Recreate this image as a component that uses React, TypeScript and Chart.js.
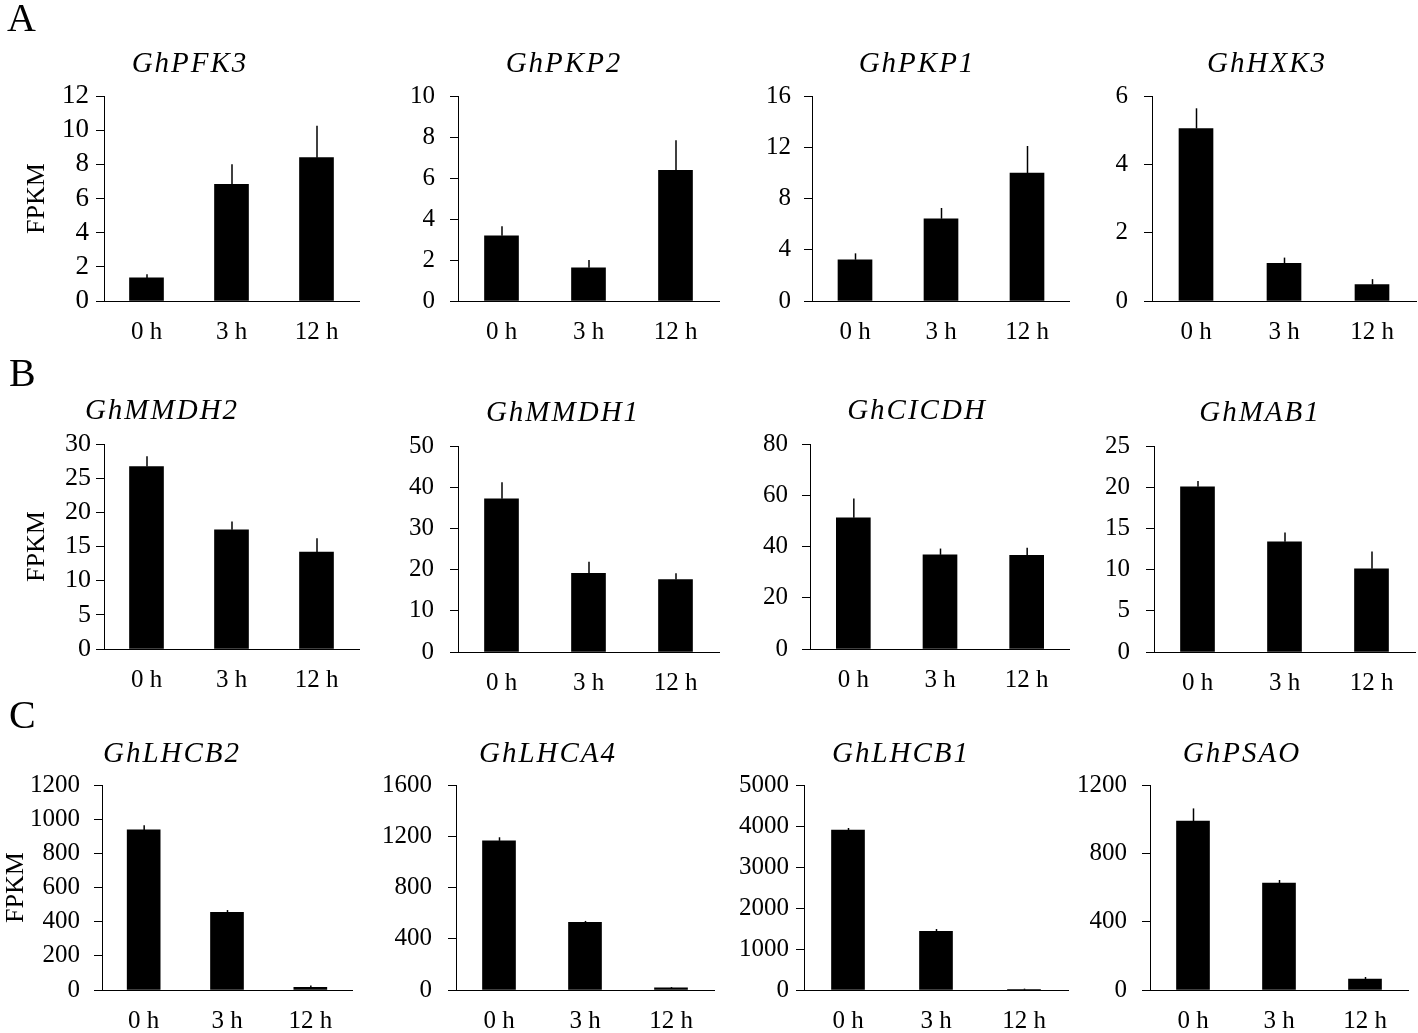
import React, { useEffect, useRef } from 'react';
import { Chart, registerables } from 'chart.js';

Chart.register(...registerables);

// ---------- data ----------
const timePoints = ['0 h', '3 h', '12 h'];
const geneNames = [
  'GhPFK3', 'GhPKP2', 'GhPKP1', 'GhHXK3',
  'GhMMDH2', 'GhMMDH1', 'GhCICDH', 'GhMAB1',
  'GhLHCB2', 'GhLHCA4', 'GhLHCB1', 'GhPSAO',
];
const fpkmPFK3 = [1.35, 6.83, 8.39];
const sePFK3 = [0.21, 1.17, 1.87];
const fpkmPKP2 = [3.18, 1.62, 6.37];
const sePKP2 = [0.47, 0.38, 1.47];
const fpkmPKP1 = [3.22, 6.42, 9.99];
const sePKP1 = [0.5, 0.84, 2.11];
const fpkmHXK3 = [5.05, 1.1, 0.48];
const seHXK3 = [0.59, 0.17, 0.16];
const fpkmMMDH2 = [26.7, 17.44, 14.2];
const seMMDH2 = [1.5, 1.22, 2.0];
const fpkmMMDH1 = [37.2, 19.1, 17.6];
const seMMDH1 = [4.0, 2.8, 1.5];
const fpkmCICDH = [51.2, 36.75, 36.6];
const seCICDH = [7.5, 2.45, 2.9];
const fpkmMAB1 = [20.06, 13.37, 10.1];
const seMAB1 = [0.69, 1.13, 2.1];
const fpkmLHCB2 = [937, 455, 16];
const seLHCB2 = [27, 13, 11];
const fpkmLHCA4 = [1164, 528, 16];
const seLHCA4 = [28, 11, 7];
const fpkmLHCB1 = [3902, 1431, 8];
const seLHCB1 = [49, 57, 25];
const fpkmPSAO = [989, 626, 64];
const sePSAO = [74, 18, 12];

const meanSeries = [
  fpkmPFK3, fpkmPKP2, fpkmPKP1, fpkmHXK3,
  fpkmMMDH2, fpkmMMDH1, fpkmCICDH, fpkmMAB1,
  fpkmLHCB2, fpkmLHCA4, fpkmLHCB1, fpkmPSAO,
];
const errorSeries = [
  sePFK3, sePKP2, sePKP1, seHXK3,
  seMMDH2, seMMDH1, seCICDH, seMAB1,
  seLHCB2, seLHCA4, seLHCB1, sePSAO,
];
const yAxisMax = [12, 10, 16, 6, 30, 50, 80, 25, 1200, 1600, 5000, 1200];
const yAxisStep = [2, 2, 4, 2, 5, 10, 20, 5, 200, 400, 1000, 400];
const panelLetters = ['A', 'B', 'C'];
const yAxisTitle = 'FPKM';

// ---------- layout (page pixels) ----------
const colEdges = [0, 365, 722, 1070, 1418];
const rowEdges = [0, 350, 700, 1033];
const frames = [
  { l: 104, t: 96, r: 359, b: 301, pad: 7, fs: 27, tx: 190, ty: 72 },
  { l: 458, t: 96, r: 719, b: 301, pad: 15, fs: 25, tx: 564, ty: 72 },
  { l: 812, t: 96, r: 1073, b: 301, pad: 13, fs: 25, tx: 917, ty: 72 },
  { l: 1152, t: 96, r: 1416, b: 301, pad: 16, fs: 25, tx: 1267, ty: 72 },
  { l: 104, t: 444, r: 359, b: 649, pad: 5, fs: 26, tx: 162, ty: 419 },
  { l: 458, t: 446, r: 719, b: 652, pad: 16, fs: 25, tx: 563, ty: 421 },
  { l: 810, t: 444, r: 1073, b: 649, pad: 14, fs: 25, tx: 917, ty: 419 },
  { l: 1154, t: 446, r: 1415, b: 652, pad: 16, fs: 25, tx: 1260, ty: 421 },
  { l: 102, t: 785, r: 352, b: 990, pad: 14, fs: 25, tx: 172, ty: 762 },
  { l: 456, t: 785, r: 714, b: 990, pad: 16, fs: 25, tx: 548, ty: 762 },
  { l: 804, t: 785, r: 1068, b: 990, pad: 7, fs: 25, tx: 901, ty: 762 },
  { l: 1150, t: 785, r: 1408, b: 990, pad: 15, fs: 25, tx: 1242, ty: 762 },
];
const fpkmCenterX = [37, 37.5, 16];
const letterPos = [
  { x: 7, y: 31 },
  { x: 9, y: 386 },
  { x: 9, y: 728 },
];

const FONT = '"Liberation Serif", "Times New Roman", serif';

function cellOf(i: number) {
  const c = i % 4;
  const r = Math.floor(i / 4);
  return {
    c,
    r,
    left: colEdges[c],
    top: rowEdges[r],
    width: colEdges[c + 1] - colEdges[c],
    height: rowEdges[r + 1] - rowEdges[r],
  };
}

const errorBarPlugin = {
  id: 'seBars',
  afterDatasetsDraw(chart: any) {
    const ds = chart.data.datasets[0];
    const errs: number[] = ds.errors || [];
    const meta = chart.getDatasetMeta(0);
    const ys = chart.scales.y;
    const ctx = chart.ctx;
    ctx.save();
    ctx.strokeStyle = '#000';
    ctx.lineWidth = 1.5;
    meta.data.forEach((bar: any, k: number) => {
      const v = ds.data[k];
      const e = errs[k] || 0;
      const top = ys.getPixelForValue(v + e);
      ctx.beginPath();
      ctx.moveTo(bar.x + 0.5, bar.y);
      ctx.lineTo(bar.x + 0.5, top);
      ctx.stroke();
    });
    ctx.restore();
  },
};

function makeTextPlugin(i: number) {
  const cell = cellOf(i);
  const f = frames[i];
  return {
    id: 'panelText' + i,
    afterDraw(chart: any) {
      const ctx = chart.ctx;
      ctx.save();
      ctx.fillStyle = '#000';
      ctx.font = `italic 29px ${FONT}`;
      try {
        (ctx as any).letterSpacing = '2px';
      } catch (e) {}
      ctx.textAlign = 'center';
      ctx.textBaseline = 'alphabetic';
      ctx.fillText(geneNames[i], f.tx - cell.left, f.ty - cell.top);
      try {
        (ctx as any).letterSpacing = '0px';
      } catch (e) {}
      if (cell.c === 0) {
        const lp = letterPos[cell.r];
        ctx.font = `40px ${FONT}`;
        ctx.textAlign = 'left';
        ctx.fillText(panelLetters[cell.r], lp.x - cell.left, lp.y - cell.top);
      }
      ctx.restore();
    },
  };
}

function Panel({ index }: { index: number }) {
  const ref = useRef<HTMLCanvasElement>(null);
  const cell = cellOf(index);
  const f = frames[index];

  useEffect(() => {
    if (!ref.current) return;
    const showTitle = cell.c === 0;
    const titleCenter = fpkmCenterX[cell.r];
    const chart = new Chart(ref.current, {
      type: 'bar',
      data: {
        labels: timePoints,
        datasets: [
          {
            data: meanSeries[index],
            errors: errorSeries[index],
            backgroundColor: '#000',
            borderWidth: 0,
            barThickness: index >= 8 ? 33 : 34,
          } as any,
        ],
      },
      options: {
        animation: false,
        responsive: true,
        maintainAspectRatio: false,
        events: [],
        layout: {
          padding: {
            left: 0,
            top: f.t - cell.top,
            right: cell.left + cell.width - f.r,
            bottom: 0,
          },
        },
        plugins: {
          legend: { display: false },
          tooltip: { enabled: false },
          title: { display: false },
        },
        scales: {
          x: {
            type: 'category',
            offset: true,
            grid: { display: false },
            border: { display: true, color: '#000', width: 1 },
            ticks: {
              color: '#000',
              padding: 8,
              font: { family: FONT, size: 25 },
              maxRotation: 0,
              autoSkip: false,
            },
            afterFit: (s: any) => {
              s.height = cell.top + cell.height - f.b;
            },
          },
          y: {
            type: 'linear',
            min: 0,
            max: yAxisMax[index],
            grid: {
              display: true,
              drawOnChartArea: false,
              drawTicks: true,
              tickLength: 8,
              color: '#000',
              lineWidth: 1,
            },
            border: { display: true, color: '#000', width: 1 },
            ticks: {
              color: '#000',
              stepSize: yAxisStep[index],
              autoSkip: false,
              padding: f.pad,
              font: { family: FONT, size: f.fs },
              callback: (v: any) => String(v),
            },
            title: {
              display: showTitle,
              text: yAxisTitle,
              color: '#000',
              font: { family: FONT, size: 26 },
              padding: { top: Math.max(0, titleCenter - 15.6), bottom: 0 },
            },
            afterFit: (s: any) => {
              s.width = f.l - cell.left;
            },
          },
        },
      } as any,
      plugins: [errorBarPlugin, makeTextPlugin(index)],
    });
    return () => chart.destroy();
  }, [index]);

  return (
    <div
      style={{
        position: 'absolute',
        left: cell.left,
        top: cell.top,
        width: cell.width,
        height: cell.height,
      }}
    >
      <canvas ref={ref} />
    </div>
  );
}

export default function App() {
  useEffect(() => {
    document.body.style.overflow = 'hidden';
    document.body.style.background = '#fff';
  }, []);
  return (
    <div>
      {geneNames.map((_, i) => (
        <Panel key={i} index={i} />
      ))}
    </div>
  );
}
